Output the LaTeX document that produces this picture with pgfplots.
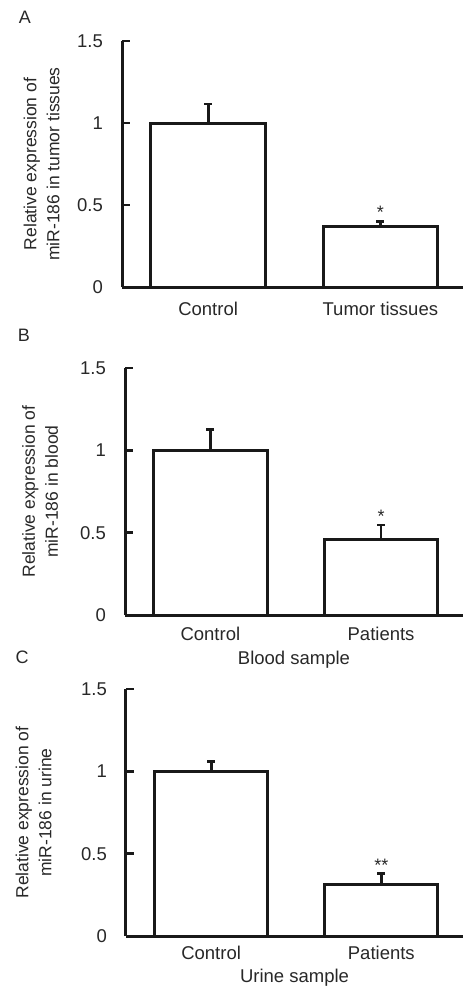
\documentclass[border=0pt]{standalone}
\usepackage{pgfplots}
\pgfplotsset{compat=1.18}
\usepackage{fontspec}
\setmainfont{Liberation Sans}
\definecolor{txt}{RGB}{40,40,40}
\definecolor{ln}{RGB}{25,25,25}
\pgfplotsset{
  myax/.style={
    scale only axis, height=247pt,
    axis x line=bottom, axis y line=left,
    axis line style={line width=3pt, ln, -},
    ymin=0, ymax=1.5, xmin=-0.5, xmax=1.48,
    ytick={0,0.5,1,1.5}, yticklabels={0,0.5,1,1.5},
    xtick={0,1},
    tick align=inside, major tick length=8pt,
    y tick style={line width=2.8pt, ln},
    x tick style={draw=none},
    yticklabel style={inner sep=0pt, xshift=-19pt, text=txt},
    xticklabel style={inner sep=0pt, anchor=north, text=txt},
    /pgf/number format/assume math mode=true,
    ylabel style={anchor=center, align=center, text=txt, font=\fontsize{17.5}{23}\selectfont},
    xlabel style={anchor=center, text=txt, font=\fontsize{18.5}{23}\selectfont},
    tick label style={font=\fontsize{18.5}{23}\selectfont},
    clip=false,
    ybar, bar width=0.665, bar shift=0pt,
  },
  mybar/.style={
    fill=white, draw=ln, line width=3pt,
    error bars/.cd, y dir=plus, y explicit,
    error bar style={line width=2.8pt, ln},
    error mark=|,
    error mark options={line width=2.8pt, mark size=4pt, ln},
  }
}
\begin{document}
\begin{tikzpicture}[x=1pt,y=1pt,font=\fontsize{18}{23}\selectfont]
\useasboundingbox (0,0) rectangle (463,-990);
\node[text=txt] at (25,-17) {A};
\node[text=txt] at (24,-335) {B};
\node[text=txt] at (22,-657) {C};

% Panel A
\begin{axis}[myax, at={(122pt,-287pt)}, anchor=south west, width=341pt, height=246pt,
  xticklabels={Control,Tumor tissues},
  xticklabel style={yshift=-7pt},
  ylabel={Relative expression of\\miR-186 in tumor tissues},
  ylabel style={at={(axis description cs:-0.236,0.5)}}]
\addplot[mybar] coordinates {(0,1) +- (0,0.116) (1,0.366) +- (0,0.034)};
\node[anchor=base, text=txt] at (axis cs:1,0.415) {*};
\end{axis}

% Panel B
\begin{axis}[myax, at={(125pt,-615pt)}, anchor=south west, width=338pt,
  xticklabels={Control,Patients},
  xticklabel style={yshift=-4pt},
  xlabel={Blood sample},
  xlabel style={at={(axis description cs:0.5,0)}, yshift=-45pt},
  ylabel={Relative expression of\\miR-186 in blood},
  ylabel style={at={(axis description cs:-0.251,0.5)}}]
\addplot[mybar] coordinates {(0,1) +- (0,0.127) (1,0.461) +- (0,0.085)};
\node[anchor=base, text=txt] at (axis cs:1,0.56) {*};
\end{axis}

% Panel C
\begin{axis}[myax, at={(126pt,-936pt)}, anchor=south west, width=337pt,
  xticklabels={Control,Patients},
  xticklabel style={yshift=-2pt},
  xlabel={Urine sample},
  xlabel style={at={(axis description cs:0.5,0)}, yshift=-42pt},
  ylabel={Relative expression of\\miR-186 in urine},
  ylabel style={at={(axis description cs:-0.274,0.5)}}]
\addplot[mybar] coordinates {(0,1) +- (0,0.062) (1,0.313) +- (0,0.067)};
\node[anchor=base, text=txt] at (axis cs:1,0.39) {**};
\end{axis}
\end{tikzpicture}
\end{document}
